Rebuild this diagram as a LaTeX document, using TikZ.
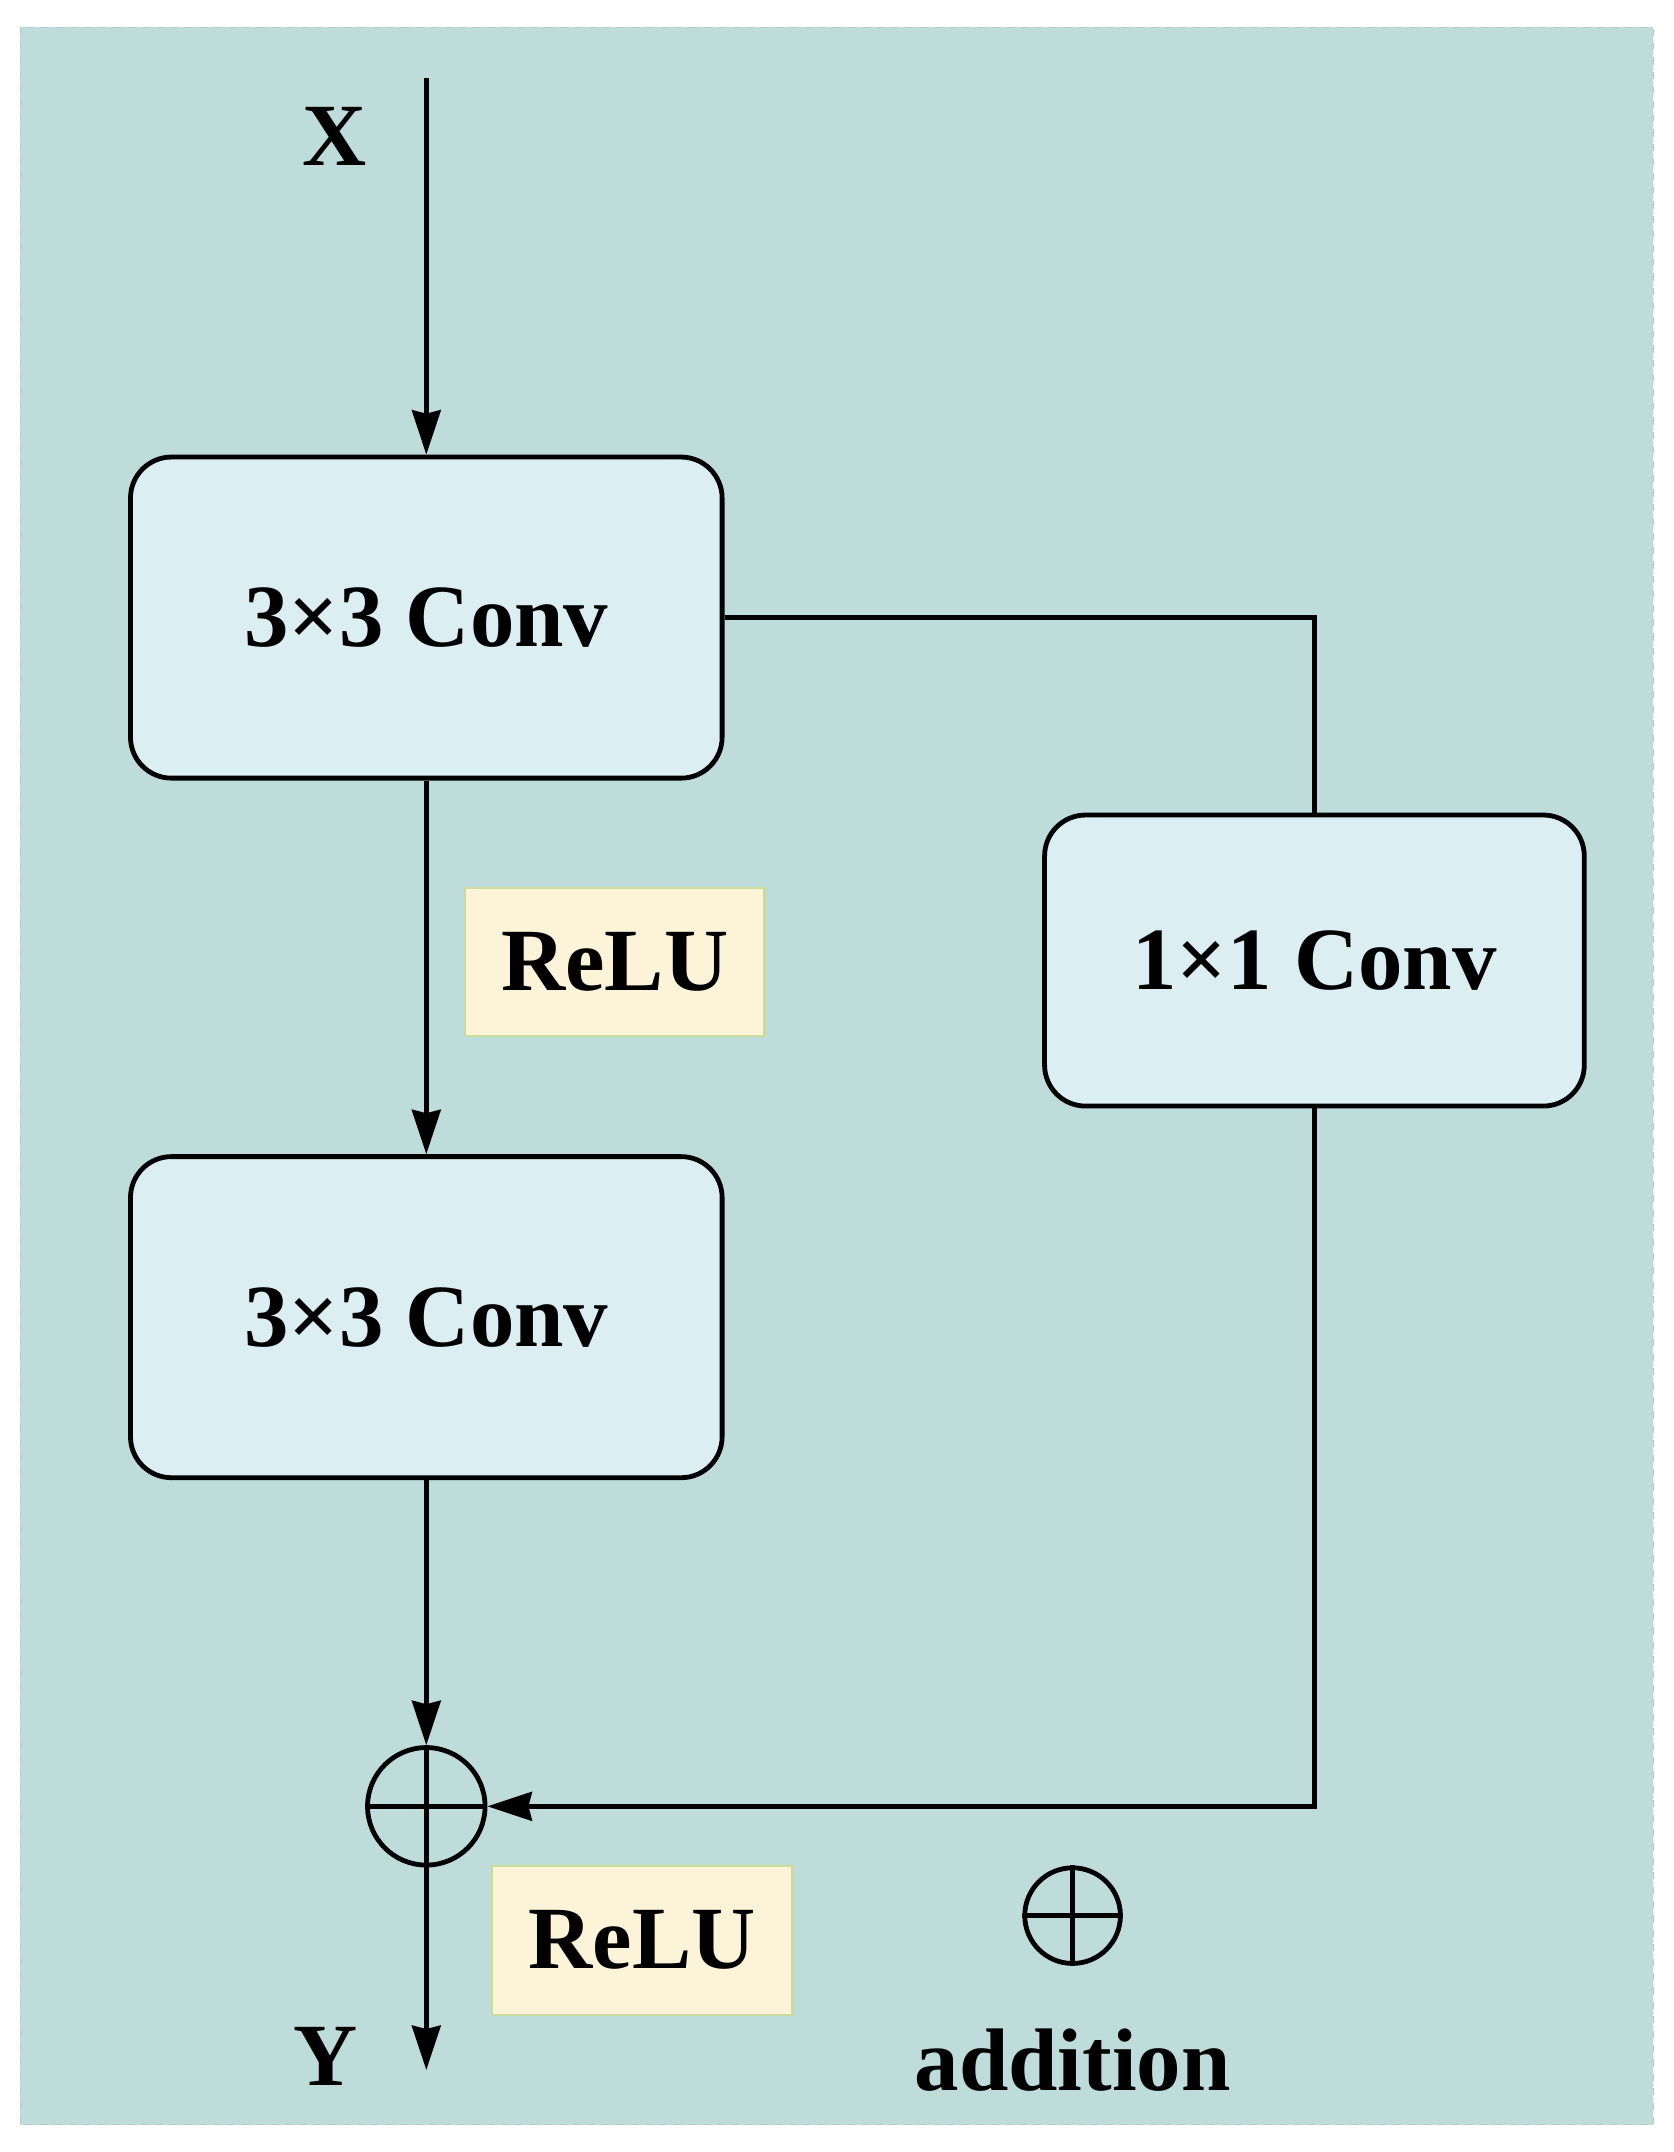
\documentclass[tikz,border=0pt]{standalone}
\usepackage{fontspec}
\setmainfont{Liberation Serif}
\usetikzlibrary{arrows.meta}
\definecolor{bg}{HTML}{BDDCDA}
\definecolor{boxc}{HTML}{DBEEF2}
\definecolor{relu}{HTML}{FDF3D9}
\definecolor{relub}{HTML}{C9DC9A}
\begin{document}
\begin{tikzpicture}[x=0.02cm,y=-0.02cm,
  conv/.style={draw=black,line width=2pt,fill=boxc,rounded corners=0.6cm,font=\fontsize{37}{44}\selectfont\bfseries},
  relu/.style={draw=relub,line width=1pt,fill=relu,font=\fontsize{37}{44}\selectfont\bfseries},
  lbl/.style={font=\fontsize{37}{44}\selectfont\bfseries},
  ln/.style={line width=2pt},
  ar/.style={ln,-{Stealth[length=0.65cm,width=0.42cm,inset=0.05cm]}}]
\useasboundingbox (0,0) rectangle (1225,1575);
\fill[white] (0,0) rectangle (1225,1575);
\draw[bg!80!gray,dashed,fill=bg] (15,20) rectangle (1210,1555);
\node[conv,minimum width=433*0.02cm,minimum height=235*0.02cm] (c1) at (312,452) {3×3 Conv};
\node[conv,minimum width=433*0.02cm,minimum height=235*0.02cm] (c2) at (312,964) {3×3 Conv};
\node[conv,minimum width=395*0.02cm,minimum height=213*0.02cm] (c3) at (962,703) {1×1 Conv};
\node[relu,minimum width=219*0.02cm,minimum height=108*0.02cm] (r1) at (450,704) {ReLU};
\node[relu,minimum width=220*0.02cm,minimum height=109*0.02cm] (r2) at (470,1420) {ReLU};
\node[draw,circle,ln,minimum size=86*0.02cm,inner sep=0] (add) at (312,1322) {};
\draw[ln] (add.north) -- (add.south) (add.west) -- (add.east);
\node[draw,circle,ln,minimum size=70*0.02cm,inner sep=0] (leg) at (785,1402) {};
\draw[ln] (leg.north) -- (leg.south) (leg.west) -- (leg.east);
\node[lbl] (addt) at (785,1508) {addition};
\node[lbl] (xl) at (245,100) {X};
\node[lbl] (yl) at (238,1505) {Y};
\coordinate (xin) at (312,57);
\coordinate (yout) at (312,1515);
\coordinate (k1) at (962,452);
\coordinate (k2) at (962,1322);
\draw[ar] (xin) -- (c1.north);
\draw[ar] (c1.south) -- (c2.north);
\draw[ar] (c2.south) -- (add.north);
\draw[ar] (add.south) -- (yout);
\draw[ln] (c1.east) -- (k1) -- (c3.north);
\draw[ar] (c3.south) -- (k2) -- (add.east);
\end{tikzpicture}
\end{document}
